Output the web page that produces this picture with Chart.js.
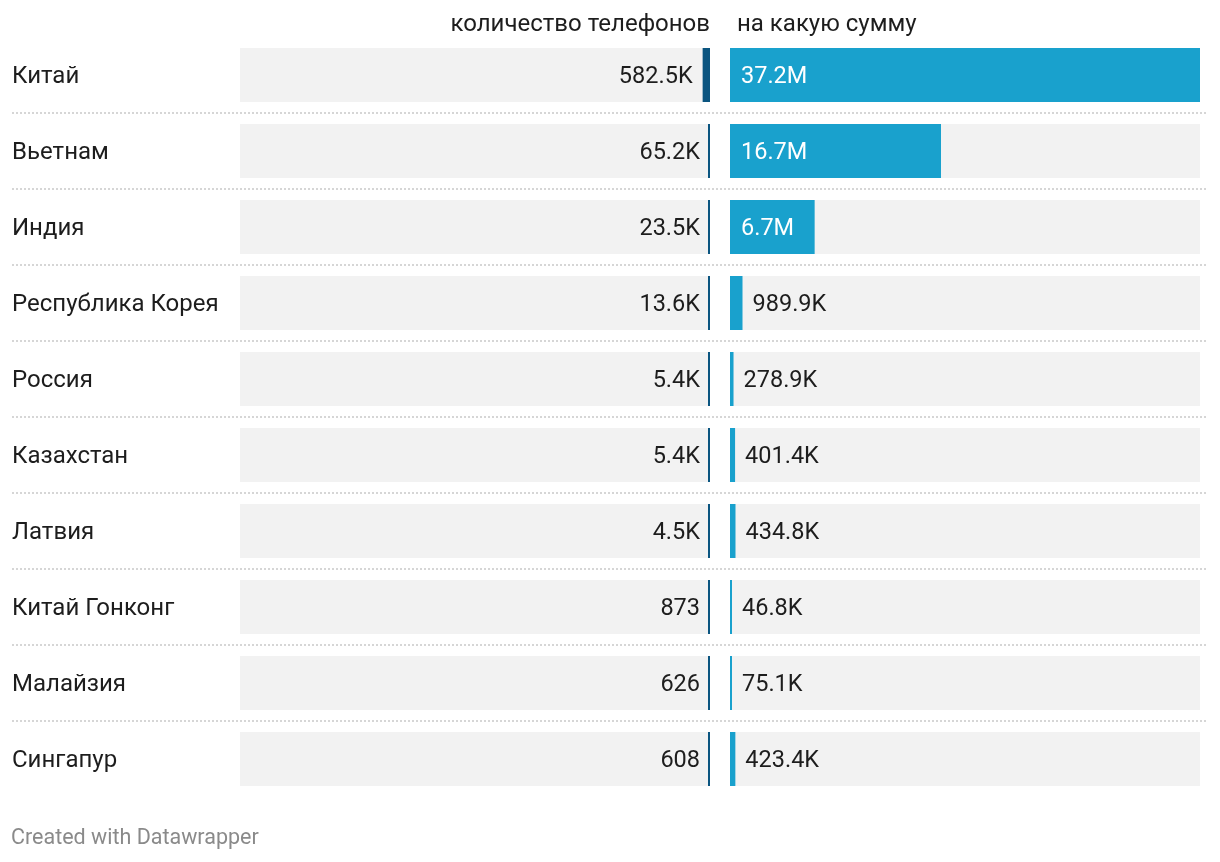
<!DOCTYPE html>
<html>
<head>
<meta charset="utf-8">
<script src="https://cdn.jsdelivr.net/npm/chart.js@4/dist/chart.umd.min.js"></script>
<style>
  html, body { margin: 0; padding: 0; background: #ffffff; }
  #wrap { position: relative; width: 1220px; height: 862px; }
  canvas { display: block; }
</style>
</head>
<body>
<div id="wrap"><canvas id="c" width="1220" height="862"></canvas></div>
<script>
// ---- data ----
const countries = ['Китай', 'Вьетнам', 'Индия', 'Республика Корея', 'Россия', 'Казахстан', 'Латвия', 'Китай Гонконг', 'Малайзия', 'Сингапур'];
const phoneCounts = [582500, 65200, 23500, 13600, 5400, 5400, 4500, 873, 626, 608];
const phoneLabels = ['582.5K', '65.2K', '23.5K', '13.6K', '5.4K', '5.4K', '4.5K', '873', '626', '608'];
const amounts = [37200000, 16700000, 6700000, 989900, 278900, 401400, 434800, 46800, 75100, 423400];
const amountLabels = ['37.2M', '16.7M', '6.7M', '989.9K', '278.9K', '401.4K', '434.8K', '46.8K', '75.1K', '423.4K'];
const headerLeft = 'количество телефонов';
const headerRight = 'на какую сумму';
const footerText = 'Created with Datawrapper';

const SCALE_MAX = Math.max(...amounts);

const FONT = 'Roboto, "Noto Sans", sans-serif';
const TEXT = '#1d1d1d';
const DARK = '#0b5580';
const BLUE = '#19a1cd';
const BG = '#f2f2f2';

const decorPlugin = {
  id: 'decor',
  beforeDatasetsDraw(chart) {
    const ctx = chart.ctx;
    const xl = chart.scales.xl, xr = chart.scales.xr, y = chart.scales.y;
    const meta = chart.getDatasetMeta(1);
    ctx.save();
    ctx.fillStyle = BG;
    meta.data.forEach((bar) => {
      const h = bar.height;
      const top = bar.y - h / 2;
      ctx.fillRect(xl.left, top, xl.right - xl.left, h);
      ctx.fillRect(xr.left, top, xr.right - xr.left, h);
    });
    // dotted separators
    ctx.strokeStyle = '#d6d6d6';
    ctx.lineWidth = 2;
    ctx.setLineDash([2, 2]);
    for (let i = 0; i < countries.length - 1; i++) {
      const yy = Math.round((y.getPixelForValue(i) + y.getPixelForValue(i + 1)) / 2);
      ctx.beginPath();
      ctx.moveTo(12, yy);
      ctx.lineTo(1208, yy);
      ctx.stroke();
    }
    ctx.restore();
  },
  afterDatasetsDraw(chart) {
    const ctx = chart.ctx;
    const xl = chart.scales.xl, xr = chart.scales.xr;
    ctx.save();
    ctx.font = '23.5px ' + FONT;
    ctx.textBaseline = 'middle';
    // left labels
    const mL = chart.getDatasetMeta(0);
    mL.data.forEach((bar, i) => {
      const w = Math.abs(bar.base - bar.x);
      const edge = w <= 2.5 ? bar.base : Math.min(bar.x, bar.base);
      ctx.fillStyle = TEXT;
      ctx.textAlign = 'right';
      ctx.fillText(phoneLabels[i], edge - 10, bar.y + 2);
    });
    // right labels
    const mR = chart.getDatasetMeta(1);
    mR.data.forEach((bar, i) => {
      const w = bar.x - bar.base;
      const tw = ctx.measureText(amountLabels[i]).width;
      ctx.textAlign = 'left';
      if (w > tw + 22) {
        ctx.fillStyle = '#ffffff';
        ctx.fillText(amountLabels[i], bar.base + 11, bar.y + 2);
      } else {
        ctx.fillStyle = TEXT;
        ctx.fillText(amountLabels[i], bar.x + 10, bar.y + 2);
      }
    });
    // headers
    ctx.font = '24px ' + FONT;
    ctx.fillStyle = TEXT;
    ctx.textAlign = 'right';
    ctx.fillText(headerLeft, xl.right, 25);
    ctx.textAlign = 'left';
    ctx.fillText(headerRight, xr.left + 7, 25);
    // footer
    ctx.font = '21.5px ' + FONT;
    ctx.fillStyle = '#8a8a8a';
    ctx.fillText(footerText, 11, 839);
    ctx.restore();
  }
};

new Chart(document.getElementById('c'), {
  type: 'bar',
  data: {
    labels: countries,
    datasets: [
      {
        label: headerLeft,
        data: phoneCounts,
        xAxisID: 'xl',
        yAxisID: 'y',
        backgroundColor: DARK,
        grouped: false,
        categoryPercentage: 1,
        barPercentage: 54 / 76,
        minBarLength: 2,
        borderWidth: 0
      },
      {
        label: headerRight,
        data: amounts,
        xAxisID: 'xr',
        yAxisID: 'y',
        backgroundColor: BLUE,
        grouped: false,
        categoryPercentage: 1,
        barPercentage: 54 / 76,
        minBarLength: 2,
        borderWidth: 0
      }
    ]
  },
  options: {
    indexAxis: 'y',
    responsive: false,
    animation: false,
    events: [],
    layout: { padding: { left: 12, right: 20, top: 37, bottom: 65 } },
    plugins: { legend: { display: false }, tooltip: { enabled: false } },
    scales: {
      y: {
        type: 'category',
        position: 'left',
        grid: { display: false, drawTicks: false },
        border: { display: false },
        ticks: {
          crossAlign: 'far',
          padding: 0,
          labelOffset: 2,
          color: TEXT,
          font: { family: FONT, size: 24 }
        },
        afterFit(scale) { scale.width = 228; }
      },
      xl: {
        type: 'linear',
        position: 'bottom',
        stack: 'cols',
        stackWeight: 470,
        reverse: true,
        min: 0,
        max: SCALE_MAX,
        display: false
      },
      xgap: {
        type: 'linear',
        position: 'bottom',
        stack: 'cols',
        stackWeight: 20,
        min: 0,
        max: 1,
        display: false
      },
      xr: {
        type: 'linear',
        position: 'bottom',
        stack: 'cols',
        stackWeight: 470,
        min: 0,
        max: SCALE_MAX,
        display: false
      }
    }
  },
  plugins: [decorPlugin]
});
</script>
</body>
</html>
